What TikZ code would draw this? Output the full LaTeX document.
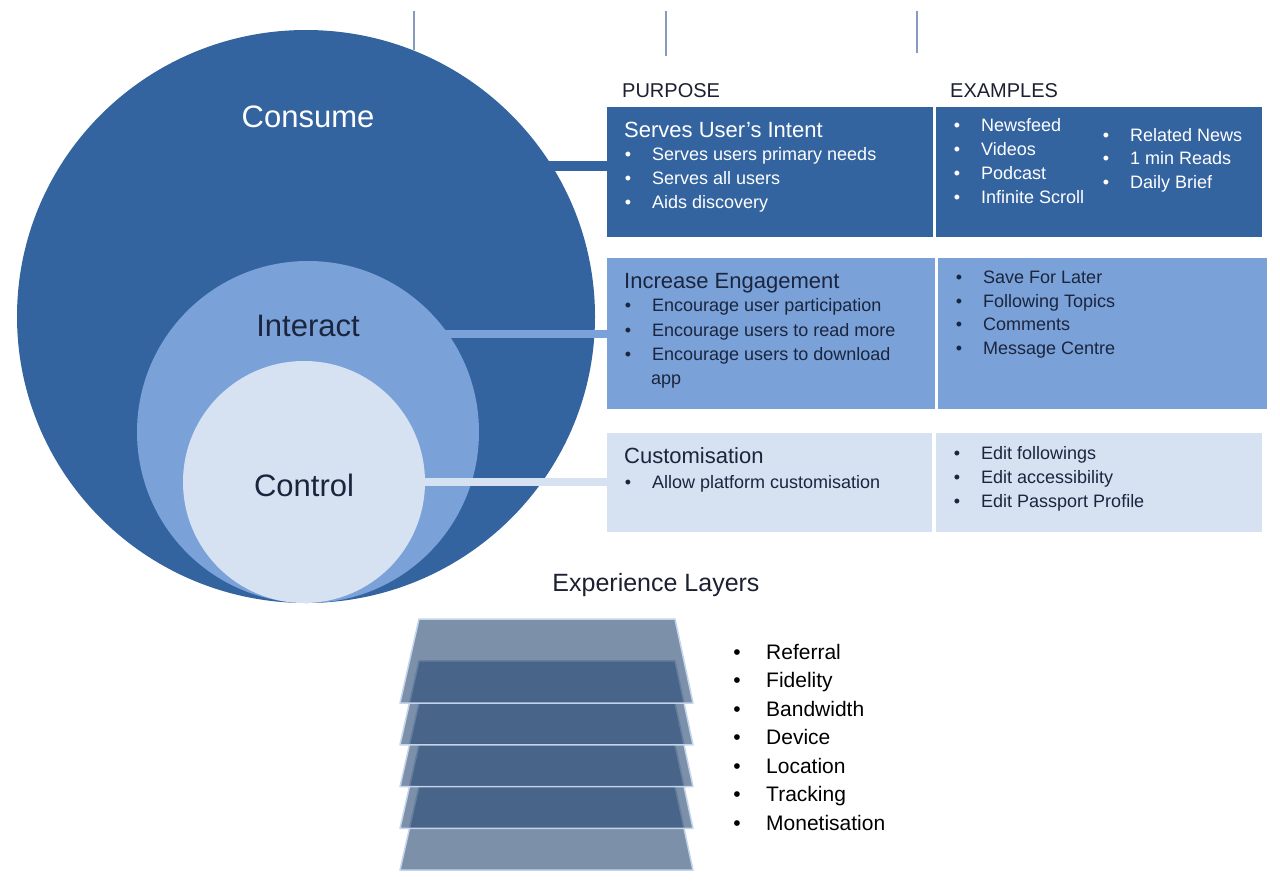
\documentclass[tikz,border=0pt]{standalone}
\usepackage{fontspec}
\setmainfont{Liberation Sans}
\usetikzlibrary{shapes.geometric}
\definecolor{cdark}{RGB}{51,100,160}
\definecolor{cmid}{RGB}{122,161,216}
\definecolor{clight}{RGB}{214,225,242}
\definecolor{ctext}{RGB}{27,37,62}
\definecolor{chead}{RGB}{28,32,48}
\definecolor{ctick}{RGB}{135,155,190}
\definecolor{cplate}{RGB}{37,70,113}
\definecolor{cedge}{RGB}{195,212,235}
\newcommand\bul[6]{%
  \node[#6,anchor=base] (#1b) at (#2,#4) {•};
  \node[#6,anchor=base west] (#1) at (#3,#4) {#5};}
\begin{document}
\begin{tikzpicture}[x=1pt,y=-1pt,
  box/.style={rectangle, inner sep=0pt, outer sep=0pt, anchor=north west},
  ring/.style={inner sep=0pt, outer sep=0pt},
  big/.style={font=\fontsize{31}{36}\selectfont, inner sep=0pt},
  ttl/.style={font=\fontsize{22}{26}\selectfont, inner sep=0pt},
  itm/.style={font=\fontsize{18}{21}\selectfont, inner sep=0pt},
  hdr/.style={font=\fontsize{20}{24}\selectfont, inner sep=0pt, text=chead},
  lst/.style={font=\fontsize{21}{25}\selectfont, inner sep=0pt, text=black},
  wt/.style={itm, text=white},
  dt/.style={itm, text=ctext},
  plate/.style={fill=cplate, fill opacity=0.6, draw=cedge, line width=1.5pt, line join=round},
  tick/.style={draw=ctick, line width=1.6pt}
]
\useasboundingbox (0,0) rectangle (1280,889);

% top ticks
\coordinate (t1a) at (414,11); \coordinate (t1b) at (414,50);
\coordinate (t2a) at (666,11); \coordinate (t2b) at (666,56);
\coordinate (t3a) at (917,11); \coordinate (t3b) at (917,53);
\draw[tick] (t1a) -- (t1b);
\draw[tick] (t2a) -- (t2b);
\draw[tick] (t3a) -- (t3b);

% boxes
\node[box, fill=cdark, minimum width=326pt, minimum height=130pt] (p1) at (607,107) {};
\node[box, fill=cdark, minimum width=326pt, minimum height=130pt] (e1) at (936,107) {};
\node[box, fill=cmid, minimum width=328pt, minimum height=151pt] (p2) at (607,258) {};
\node[box, fill=cmid, minimum width=329pt, minimum height=151pt] (e2) at (938,258) {};
\node[box, fill=clight, minimum width=325pt, minimum height=99pt] (p3) at (607,433) {};
\node[box, fill=clight, minimum width=326pt, minimum height=99pt] (e3) at (936,433) {};

% circles and connectors
\node[ring, ellipse, fill=cdark, minimum width=578pt, minimum height=573pt] (consume) at (306,316.5) {};
\draw[cdark, line width=10pt] ([yshift=6pt]p1.west) -- ([yshift=6pt]consume.center |- p1.west);
\draw[cmid, line width=8pt] (p2.west) -- (consume.center |- p2.west);
\node[ring, circle, fill=cmid, minimum size=342pt] (interact) at (308,432) {};
\draw[clight, line width=8pt] ([yshift=1pt]p3.west) -- ([yshift=1pt]interact.center |- p3.west);
\node[ring, circle, fill=clight, minimum size=242pt] (control) at (304,482) {};

\node[big, text=white] (lconsume) at (308,117) {Consume};
\node[big, text=ctext] (linteract) at (308,326) {Interact};
\node[big, text=ctext] (lcontrol) at (304,485) {Control};

% headers
\node[hdr, anchor=base west] (hpurpose) at (622,97) {PURPOSE};
\node[hdr, anchor=base west] (hexamples) at (950,97) {EXAMPLES};

% row 1
\node[ttl, text=white, anchor=base west] (r1t) at (624,137) {Serves User’s Intent};
\bul{a1}{628}{652}{160.5}{Serves users primary needs}{wt}
\bul{a2}{628}{652}{184.5}{Serves all users}{wt}
\bul{a3}{628}{652}{208.5}{Aids discovery}{wt}
\bul{x1}{957}{981}{131.5}{Newsfeed}{wt}
\bul{x2}{957}{981}{155}{Videos}{wt}
\bul{x3}{957}{981}{179}{Podcast}{wt}
\bul{x4}{957}{981}{203.5}{Infinite Scroll}{wt}
\bul{y1}{1106}{1130}{141.5}{Related News}{wt}
\bul{y2}{1106}{1130}{164.5}{1 min Reads}{wt}
\bul{y3}{1106}{1130}{188.5}{Daily Brief}{wt}

% row 2
\node[ttl, text=ctext, anchor=base west] (r2t) at (624,288.5) {Increase Engagement};
\bul{b1}{628}{652}{311.5}{Encourage user participation}{dt}
\bul{b2}{628}{652}{336}{Encourage users to read more}{dt}
\bul{b3}{628}{652}{360.5}{Encourage users to download}{dt}
\node[dt, anchor=base west] (b4) at (651,384) {app};
\bul{z1}{959}{983}{283.5}{Save For Later}{dt}
\bul{z2}{959}{983}{307}{Following Topics}{dt}
\bul{z3}{959}{983}{330.5}{Comments}{dt}
\bul{z4}{959}{983}{354.5}{Message Centre}{dt}

% row 3
\node[ttl, text=ctext, anchor=base west] (r3t) at (624,463.5) {Customisation};
\bul{c1}{628}{652}{488}{Allow platform customisation}{dt}
\bul{w1}{957}{981}{459.5}{Edit followings}{dt}
\bul{w2}{957}{981}{483}{Edit accessibility}{dt}
\bul{w3}{957}{981}{507}{Edit Passport Profile}{dt}

% experience layers
\node[font=\fontsize{25}{30}\selectfont, text=chead, inner sep=0pt, anchor=base] (elabel) at (656,591) {Experience Layers};
\foreach \i in {4,3,2,1,0}{
  \pgfmathsetmacro{\T}{619+41.8*\i}
  \pgfmathsetmacro{\B}{\T+84}
  \draw[plate] (419,\T) -- (675,\T) -- (693,\B) -- (400,\B) -- cycle;
}
\bul{l1}{737}{766}{659}{Referral}{lst}
\bul{l2}{737}{766}{687.5}{Fidelity}{lst}
\bul{l3}{737}{766}{716}{Bandwidth}{lst}
\bul{l4}{737}{766}{744.5}{Device}{lst}
\bul{l5}{737}{766}{773}{Location}{lst}
\bul{l6}{737}{766}{801.5}{Tracking}{lst}
\bul{l7}{737}{766}{830}{Monetisation}{lst}
\end{tikzpicture}
\end{document}
